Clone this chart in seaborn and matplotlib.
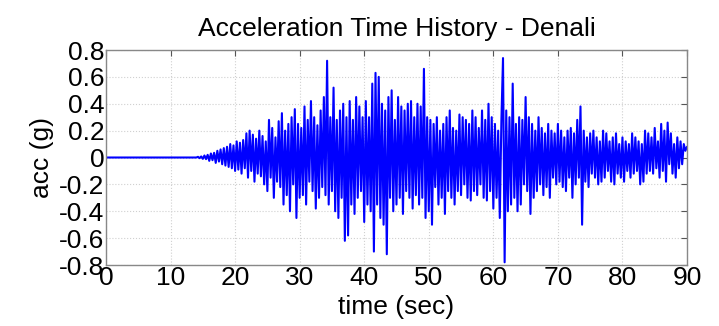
import numpy as np
import pandas as pd
import matplotlib
matplotlib.use("Agg")
import matplotlib.pyplot as plt
import seaborn as sns

# quiet pre-event part
quiet_time = [0.0, 13.75]
quiet_acc = [0.0, 0.0]

acc_14_30 = [
    0.0, 0.005, -0.005, 0.008,
    -0.01, 0.015, -0.012, 0.02,
    -0.025, 0.03, -0.02, 0.035,
    -0.04, 0.05, -0.03, 0.06,
    -0.05, 0.07, -0.06, 0.08,
    -0.07, 0.10, -0.08, 0.09,
    -0.10, 0.12, -0.09, 0.11,
    -0.12, 0.13, -0.08, 0.18,
    -0.15, 0.20, -0.10, 0.17,
    -0.18, 0.14, -0.12, 0.20,
    -0.14, 0.16, -0.20, 0.12,
    -0.25, 0.28, -0.15, 0.22,
    -0.30, 0.15, -0.18, 0.27,
    -0.22, 0.33, -0.35, 0.20,
    -0.28, 0.25, -0.40, 0.30,
    -0.20, 0.36, -0.45, 0.25,
]
acc_30_46 = [
    -0.30, 0.22, -0.28, 0.38,
    -0.35, 0.28, -0.18, 0.42,
    -0.25, 0.30, -0.38, 0.24,
    -0.30, 0.35, -0.22, 0.45,
    -0.28, 0.72, -0.35, 0.30,
    -0.25, 0.52, -0.40, 0.28,
    -0.45, 0.35, -0.30, 0.40,
    -0.62, 0.30, -0.58, 0.42,
    -0.35, 0.28, -0.42, 0.45,
    -0.30, 0.38, -0.25, 0.30,
    -0.48, 0.42, -0.35, 0.30,
    -0.40, 0.55, -0.70, 0.63,
    -0.35, 0.60, -0.45, 0.40,
    -0.50, 0.35, -0.72, 0.45,
    -0.30, 0.50, -0.40, 0.28,
    -0.35, 0.45, -0.30, 0.38,
]
acc_46_62 = [
    -0.42, 0.35, -0.25, 0.40,
    -0.30, 0.42, -0.38, 0.30,
    -0.28, 0.40, -0.35, 0.38,
    -0.30, 0.66, -0.45, 0.30,
    -0.40, 0.28, -0.50, 0.25,
    -0.22, 0.30, -0.35, 0.20,
    -0.30, 0.25, -0.42, 0.30,
    -0.25, 0.35, -0.30, 0.22,
    -0.35, 0.20, -0.25, 0.32,
    -0.28, 0.30, -0.20, 0.28,
    -0.30, 0.25, -0.32, 0.35,
    -0.25, 0.30, -0.28, 0.22,
    -0.20, 0.35, -0.30, 0.28,
    -0.32, 0.40, -0.25, 0.30,
    -0.38, 0.25, -0.30, 0.20,
    -0.45, 0.28, 0.74, -0.78,
]
acc_62_78 = [
    0.35, -0.40, 0.30, -0.35,
    0.55, -0.30, 0.25, -0.40,
    0.30, -0.35, 0.28, -0.20,
    0.45, -0.25, 0.30, -0.42,
    0.25, -0.30, 0.20, -0.25,
    0.30, -0.20, 0.22, -0.28,
    0.18, -0.22, 0.25, -0.30,
    0.20, -0.15, 0.18, -0.20,
    0.25, -0.18, 0.20, -0.22,
    0.15, -0.25, 0.20, -0.15,
    0.22, -0.30, 0.18, -0.20,
    0.28, -0.15, 0.38, -0.50,
    0.20, -0.18, 0.15, -0.22,
    0.18, -0.12, 0.20, -0.15,
    0.15, -0.20, 0.12, -0.18,
    0.20, -0.15, 0.18, -0.10,
]
acc_78_90 = [
    0.12, -0.18, 0.15, -0.20,
    0.18, -0.12, 0.10, -0.15,
    0.15, -0.18, 0.12, -0.10,
    0.10, -0.15, 0.18, -0.12,
    0.15, -0.10, 0.12, -0.20,
    0.10, -0.18, 0.20, -0.12,
    0.18, -0.10, 0.15, -0.12,
    0.22, -0.08, 0.12, -0.15,
    0.25, -0.10, 0.20, -0.18,
    0.26, -0.05, 0.18, -0.12,
    0.10, -0.15, 0.15, -0.08,
    0.12, -0.05, 0.10, 0.05,
    0.08,
]

x_ticks = [0, 10, 20, 30, 40, 50, 60, 70, 80, 90]
y_ticks = [-0.8, -0.6, -0.4, -0.2, 0, 0.2, 0.4, 0.6, 0.8]
y_tick_labels = ["-0.8", "-0.6", "-0.4", "-0.2", "0", "0.2", "0.4", "0.6", "0.8"]
x_tick_labels = ["0", "10", "20", "30", "40", "50", "60", "70", "80", "90"]

strong = acc_14_30 + acc_30_46 + acc_46_62 + acc_62_78 + acc_78_90
strong_time = list(14.0 + 0.25 * np.arange(len(strong)))
df = pd.DataFrame({"time": quiet_time + strong_time, "acc": quiet_acc + strong})

sns.set_theme(style="white")
plt.rcParams["font.family"] = ["Liberation Sans", "DejaVu Sans"]

fig = plt.figure(figsize=(7.19, 3.26), dpi=100)
ax = fig.add_axes([0.1474, 0.1871, 0.8081, 0.6595])
sns.lineplot(data=df, x="time", y="acc", ax=ax, color="#0000ff", linewidth=1.5,
             estimator=None, sort=False)

ax.set_xlim(0, 90)
ax.set_ylim(-0.8, 0.8)
ax.set_xticks(x_ticks)
ax.set_xticklabels(x_tick_labels)
ax.set_yticks(y_ticks)
ax.set_yticklabels(y_tick_labels)
ax.grid(True, color="#d0d0d0", linestyle=":", linewidth=0.8)
ax.tick_params(direction="in", length=4, width=0.8, colors="#555555",
               labelcolor="black", labelsize=19, top=True, right=True, pad=1)
for s in ax.spines.values():
    s.set_color("#888888")
    s.set_linewidth(1.0)
ax.set_title("Acceleration Time History - Denali", fontsize=19, color="black", pad=10)
ax.set_xlabel("time (sec)", fontsize=19, color="black", labelpad=3)
ax.set_ylabel("acc (g)", fontsize=19, color="black", labelpad=4)

fig.savefig("out.png", dpi=100, facecolor="white")
